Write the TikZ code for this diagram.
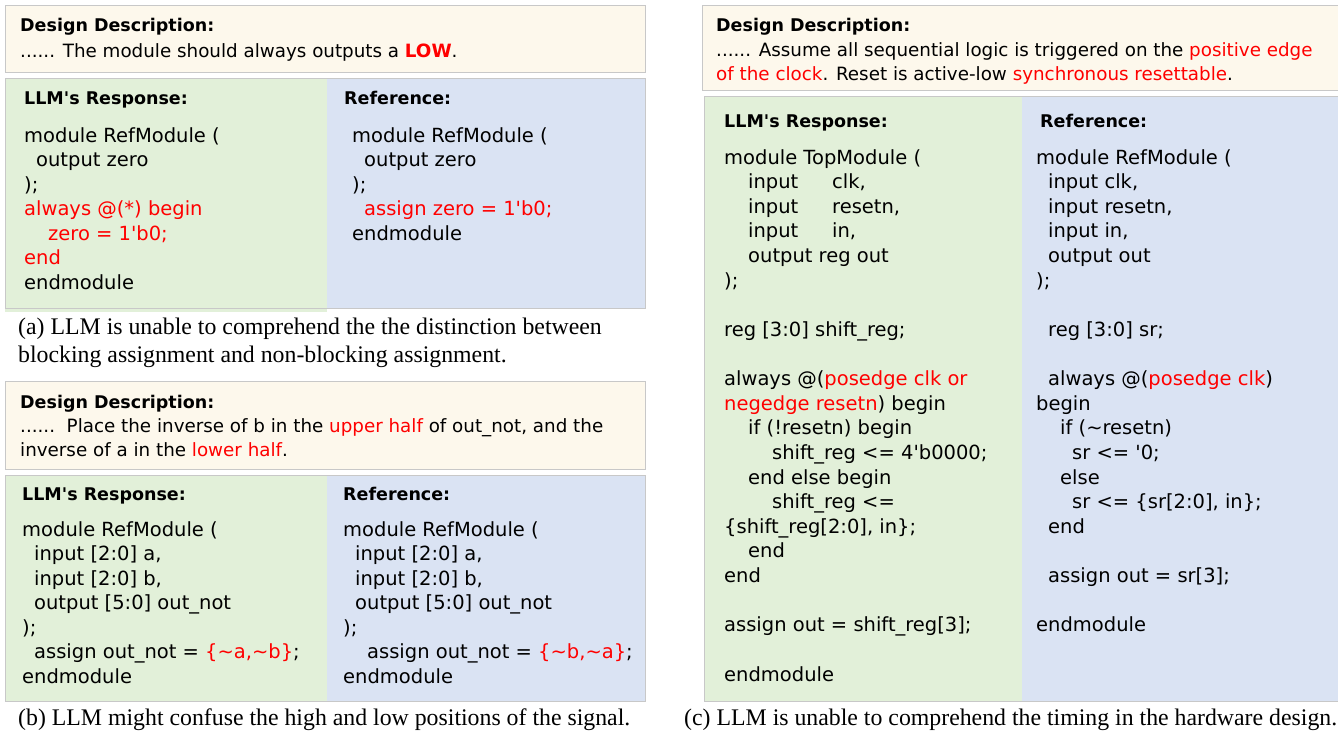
\documentclass[tikz,border=0pt]{standalone}
\usepackage{fontspec}
\setmainfont{Liberation Serif}
\newfontfamily\codefont{DejaVu Sans}
\definecolor{descbg}{HTML}{FDF8EC}
\definecolor{respbg}{HTML}{E2F0D9}
\definecolor{refbg}{HTML}{DAE3F3}
\definecolor{boxgray}{HTML}{C8C8C8}
\definecolor{hlred}{HTML}{FF0000}
\newlength\indw
\setlength\indw{12pt}
\newcommand{\ind}[1]{\hspace*{#1\indw}}
\newcommand{\hl}[1]{\textcolor{hlred}{#1}}
\newcommand{\tld}{\textasciitilde}
\newcommand{\tq}{\textquotesingle}
\tikzset{
  descbox/.style = {fill=descbg, draw=boxgray, line width=0.8pt},
  respbox/.style = {fill=respbg},
  refbox/.style = {fill=refbg},
  codeline/.style = {anchor=base west, inner sep=0pt, font=\codefont\fontsize{19.5}{24}\selectfont},
  descline/.style = {anchor=base west, inner sep=0pt, font=\codefont\fontsize{18.3}{22}\selectfont},
  headline/.style = {anchor=base west, inner sep=0pt, font=\codefont\bfseries\fontsize{17.5}{20}\selectfont},
  capline/.style = {anchor=base west, inner sep=0pt, font=\fontsize{23.8}{28}\selectfont}
}
\begin{document}
\begin{tikzpicture}[x=1pt, y=-1pt]
        \useasboundingbox (0, 0) rectangle (1338, 732);
        \fill[white] (0, 0) rectangle (1338, 732);

        % (a) always outputs LOW
        \draw[descbox] (5, 5) rectangle (645, 72);
        \fill[respbox] (5, 78) rectangle (327, 312);
        \fill[refbox] (327, 78) rectangle (645, 308);
        \draw[boxgray, line width=0.8pt] (5, 78) rectangle (645, 308);
        \node[headline] (adesc) at (20, 31) {Design Description:};
        \node[descline] (adtext) at (20, 57) {...... The module should always outputs a \hl{\textbf{LOW}}.};
        \node[headline] (aresp) at (24, 104) {LLM's Response:};
        \node[headline] (aref) at (344, 104) {Reference:};
        \foreach \ln [count=\i] in {module RefModule (, \ind{1}output zero, );, \hl{always @(*) begin}, \hl{\ind{2}zero = 1\tq b0;}, \hl{end}, endmodule}
          \node[codeline] (al\i) at (24, {142+24.5*(\i-1)}) {\ln};
        \foreach \ln [count=\i] in {module RefModule (, \ind{1}output zero, );, \hl{\ind{1}assign zero = 1\tq b0;}, endmodule}
          \node[codeline] (ar\i) at (352, {142+24.5*(\i-1)}) {\ln};
        \node[capline] (acap1) at (18, 334) {(a) LLM is unable to comprehend the the distinction between};
        \node[capline] (acap2) at (18, 362) {blocking assignment and non-blocking assignment.};

        % (b) upper and lower half
        \draw[descbox] (5, 381) rectangle (645, 469);
        \fill[respbox] (5, 475) rectangle (327, 701);
        \fill[refbox] (327, 475) rectangle (645, 701);
        \draw[boxgray, line width=0.8pt] (5, 475) rectangle (645, 701);
        \node[headline] (bdesc) at (20, 408) {Design Description:};
        \node[descline] (bdtext1) at (20, 432) {......\ \ Place the inverse of b in the \hl{upper half} of out\_not, and the};
        \node[descline] (bdtext2) at (20, 456) {inverse of a in the \hl{lower half}.};
        \node[headline] (bresp) at (22, 500) {LLM's Response:};
        \node[headline] (bref) at (343, 500) {Reference:};
        \foreach \ln [count=\i] in {module RefModule (, {\ind{1}input [2:0] a,}, {\ind{1}input [2:0] b,}, \ind{1}output [5:0] out\_not, );, {\ind{1}assign out\_not = \hl{\{\tld a,\tld b\}};}, endmodule}
          \node[codeline] (bl\i) at (22, {536+24.5*(\i-1)}) {\ln};
        \foreach \ln [count=\i] in {module RefModule (, {\ind{1}input [2:0] a,}, {\ind{1}input [2:0] b,}, \ind{1}output [5:0] out\_not, );, {\ind{2}assign out\_not = \hl{\{\tld b,\tld a\}};}, endmodule}
          \node[codeline] (br\i) at (343, {536+24.5*(\i-1)}) {\ln};
        \node[capline] (bcap) at (18, 725) {(b) LLM might confuse the high and low positions of the signal.};

        % (c) timing
        \draw[descbox] (702, 5) rectangle (1338, 90);
        \fill[respbox] (704, 96) rectangle (1022, 701);
        \fill[refbox] (1022, 96) rectangle (1338, 701);
        \draw[boxgray, line width=0.8pt] (704, 96) rectangle (1338, 701);
        \node[headline] (cdesc) at (716, 31) {Design Description:};
        \node[descline] (cdtext1) at (716, 56) {...... Assume all sequential logic is triggered on the \hl{positive edge}};
        \node[descline] (cdtext2) at (716, 80) {\hl{of the clock}. Reset is active-low \hl{synchronous resettable}.};
        \node[headline] (cresp) at (724, 127) {LLM's Response:};
        \node[headline] (cref) at (1040, 127) {Reference:};
        \foreach \ln [count=\i] in {module TopModule (, {\ind{2}\makebox[84pt][l]{input}clk,}, {\ind{2}\makebox[84pt][l]{input}resetn,}, {\ind{2}\makebox[84pt][l]{input}in,}, \ind{2}output reg out, );, {}, reg [3:0] shift\_reg;, {},
            always @(\hl{posedge clk or}, \hl{negedge resetn}) begin, \ind{2}if (!resetn) begin, \ind{4}shift\_reg <= 4\tq b0000;, \ind{2}end else begin, \ind{4}shift\_reg <=, {\{shift\_reg[2:0], in\};}, \ind{2}end, end, {}, assign out = shift\_reg[3];, {}, endmodule}
          \node[codeline] (cl\i) at (724, {164+24.62*(\i-1)}) {\ln};
        \foreach \ln [count=\i] in {module RefModule (, {\ind{1}input clk,}, {\ind{1}input resetn,}, {\ind{1}input in,}, \ind{1}output out, );, {}, \ind{1}reg [3:0] sr;, {},
            \ind{1}always @(\hl{posedge clk}), begin, \ind{2}if (\tld resetn), \ind{3}sr <= \tq 0;, \ind{2}else, {\ind{3}sr <= \{sr[2:0], in\};}, \ind{1}end, {}, \ind{1}assign out = sr[3];, {}, endmodule}
          \node[codeline] (cr\i) at (1036, {164+24.62*(\i-1)}) {\ln};
        \node[capline] (ccap) at (684, 725) {(c) LLM is unable to comprehend the timing in the hardware design.};
      \end{tikzpicture}
\end{document}
